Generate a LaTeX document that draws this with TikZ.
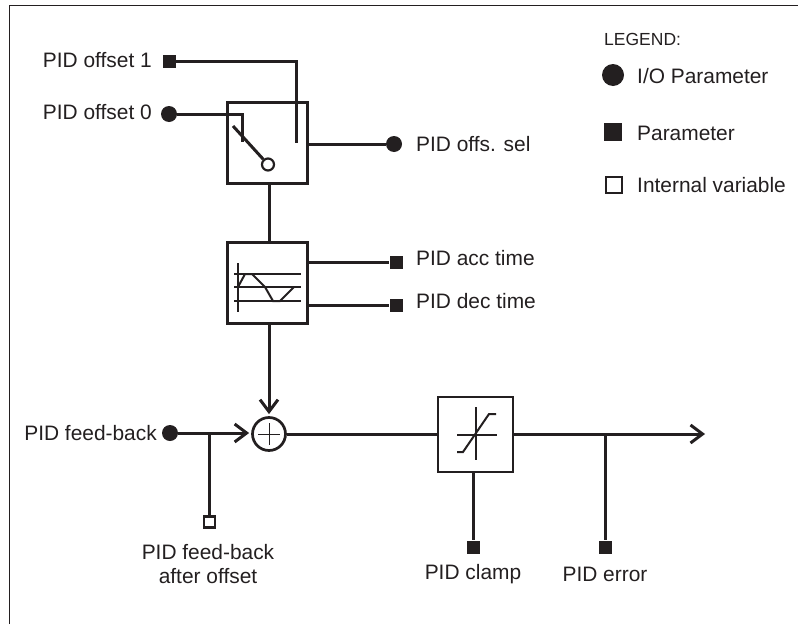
\documentclass[tikz,border=0pt]{standalone}
\usepackage{fontspec}
\setmainfont{Liberation Sans}
\usepackage{xcolor}
\usetikzlibrary{arrows.meta, positioning}
\definecolor{inkBlack}{RGB}{35,31,32}

\begin{document}
\begin{tikzpicture}[
  x=1pt, y=-1pt,
  color=inkBlack,
  wire/.style={line width=3pt},
  thinwire/.style={line width=2pt},
  arrow/.style={wire, -{Straight Barb[length=12pt, width=18pt, line width=3pt]}},
  block/.style={rectangle, draw, line width=2.7pt, minimum width=80pt, minimum height=81pt, inner sep=0pt},
  iopar/.style={circle, fill=inkBlack, minimum size=16pt, inner sep=0pt},
  parsq/.style={rectangle, fill=inkBlack, minimum size=13pt, inner sep=0pt},
  intvar/.style={rectangle, draw, line width=2.2pt, fill=white, minimum size=11pt, inner sep=0pt},
  txt/.style={font=\fontsize{20.9pt}{24pt}\selectfont, text=inkBlack, inner sep=0pt, align=center}
]
\useasboundingbox (0,0) rectangle (798,624);
% Frame
\draw[line width=1.3pt] (9.5,624) -- (9.5,5.5) -- (798,5.5);

% Legend
\node[txt, anchor=west, font=\fontsize{17.5pt}{20pt}\selectfont] (legend) at (604,39) {LEGEND:};
\node[iopar, minimum size=22pt] (lgio) at (613,75) {};
\node[parsq, minimum size=18pt] (lgpar) at (613,132) {};
\node[intvar, minimum size=16pt] (lgint) at (614,185) {};
\node[txt, anchor=west] (lgiotxt) at (637,76) {I/O Parameter};
\node[txt, anchor=west] (lgpartxt) at (637,133) {Parameter};
\node[txt, anchor=west] (lginttxt) at (637,185) {Internal variable};

% Switch
\node[block] (switch) at (267.5,143) {};
\node[parsq] (offs1) at (169,61) {};
\node[iopar] (offs0) at (169,114) {};
\node[iopar] (offssel) at (394,144) {};
\node[circle, draw, line width=2.2pt, minimum size=12pt, inner sep=0pt] (pole) at (268,164.5) {};
\node[txt, anchor=east] (offs1txt) at (152,60) {PID offset 1};
\node[txt, anchor=east] (offs0txt) at (152,112) {PID offset 0};
\node[txt, anchor=west] (offsseltxt) at (416,144) {PID offs. sel};
\coordinate (end1) at (296,143);
\coordinate (end0) at (242,142);
\coordinate (arm) at (233,126);
\draw[wire] (offs1) -- (296,61) -- (end1);
\draw[wire] (offs0) -- (242,114) -- (end0);
\draw[wire] (arm) -- (pole);
\draw[wire] (switch.east |- offssel) -- (offssel);

% Ramp
\node[block] (ramp) at (267.5,283) {};
\node[parsq] (acc) at (396,262) {};
\node[parsq] (dec) at (396,305) {};
\node[txt, anchor=west] (acctxt) at (416,258) {PID acc time};
\node[txt, anchor=west] (dectxt) at (416,301) {PID dec time};
\draw[wire] (269,184) -- (269,243);
\draw[wire] (ramp.east |- acc) -- (acc);
\draw[wire] (ramp.east |- dec) -- (dec);
\draw[thinwire] (238,263) -- (238,312);
\foreach \yy in {274,287,301}
  \draw[thinwire] (234,\yy) -- (301,\yy);
\draw[thinwire] (238,287) -- (245,274) -- (252,274) -- (265,287) -- (273,301) -- (280,301) -- (294,287);

% Sum
\node[circle, draw, line width=2.7pt, minimum size=33pt, inner sep=0pt] (sum) at (269,434) {};
\node[iopar] (fback) at (170,433) {};
\node[intvar] (fbackoff) at (209.5,522) {};
\node[txt, anchor=east] (fbacktxt) at (157,433) {PID feed-back};
\node[txt] (fbackofftxt) at (208,564) {PID feed-back\\after offset};
\draw[line width=0.8pt] (258,434) -- (280,434);
\draw[line width=0.8pt] (269,423) -- (269,445);
\draw[arrow, shorten >=2pt] (269,323) -- (sum.north);
\draw[arrow, shorten >=2pt] (fback) -- (sum.west |- fback);
\draw[wire] (209.5,433) -- (fbackoff);

% Clamp
\node[block, minimum width=75pt, minimum height=75pt] (clamp) at (475.5,434.5) {};
\node[parsq] (clampin) at (473,547) {};
\node[parsq] (err) at (605,547) {};
\coordinate (out) at (705,434);
\node[txt] (clamptxt) at (473,574) {PID clamp};
\node[txt] (errtxt) at (605,574) {PID error};
\draw[wire] (sum.east) -- (clamp.west |- sum.east);
\draw[arrow] (clamp.east |- out) -- (out);
\draw[wire] (473,472) -- (clampin);
\draw[wire] (605,434) -- (err);
\draw[thinwire] (476,407) -- (476,460);
\draw[thinwire] (457,435) -- (497,435);
\draw[thinwire] (457,452) -- (463,452) -- (489,414) -- (496,414);
\end{tikzpicture}
\end{document}
